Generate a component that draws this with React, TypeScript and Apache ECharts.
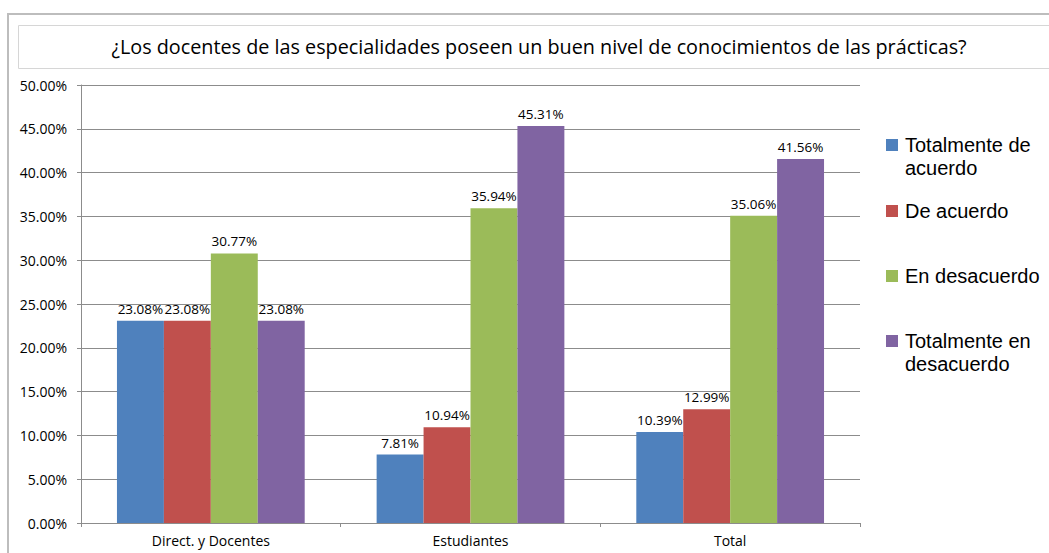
import React, { useEffect, useRef } from "react";
import * as echarts from "echarts";

const categories = ["Direct. y Docentes", "Estudiantes", "Total"];
const seriesNames = ["Totalmente de acuerdo", "De acuerdo", "En desacuerdo", "Totalmente en desacuerdo"];
const legendLabels = ["Totalmente de\nacuerdo", "De acuerdo", "En desacuerdo", "Totalmente en\ndesacuerdo"];
const totalmenteDeAcuerdo = [23.08, 7.81, 10.39];
const deAcuerdo = [23.08, 10.94, 12.99];
const enDesacuerdo = [30.77, 35.94, 35.06];
const totalmenteEnDesacuerdo = [23.08, 45.31, 41.56];
const seriesValues = [totalmenteDeAcuerdo, deAcuerdo, enDesacuerdo, totalmenteEnDesacuerdo];
const colors = ["#4F81BD", "#C0504D", "#9BBB59", "#8064A2"];
const titleText = "¿Los docentes de las especialidades poseen un buen nivel de conocimientos de las prácticas?";

const FONT = "'Open Sans', sans-serif";
const LEGEND_FONT = "'Liberation Sans', Arial, sans-serif";

export default function App() {
  const ref = useRef<HTMLDivElement>(null);
  useEffect(() => {
    document.body.style.margin = "0";
    const chart = echarts.init(ref.current!, null, { renderer: "svg" });
    const swatchTops = [139, 205, 270, 335];
    const LH = 23;
    const legends = seriesNames.map((name, i) => {
      const twoLine = legendLabels[i].includes("\n");
      return {
        orient: "vertical",
        left: 886,
        top: twoLine ? swatchTops[i] + 6 - 1.5 * LH : swatchTops[i] + 6 - LH / 2,
        padding: 0,
        itemWidth: 12,
        itemHeight: 12,
        itemGap: 0,
        icon: "rect",
        data: [name],
        formatter: () => (twoLine ? " \n" + legendLabels[i] : legendLabels[i]),
        textStyle: { fontFamily: LEGEND_FONT, fontSize: 20, color: "#000", lineHeight: LH, padding: [0, 0, 0, 2] },
      };
    });
    chart.setOption({
      animation: false,
      color: colors,
      textStyle: { fontFamily: FONT },
      graphic: [
        {
          type: "rect",
          shape: { x: 8, y: 14, width: 1100, height: 600 },
          style: { fill: "none", stroke: "#bdbdbd", lineWidth: 2 },
          silent: true,
        },
        {
          type: "rect",
          shape: { x: 18.5, y: 25.5, width: 1100, height: 43 },
          style: { fill: "none", stroke: "#d6d6d6", lineWidth: 1 },
          silent: true,
        },
        {
          type: "text",
          x: 539,
          y: 46,
          style: {
            text: titleText,
            align: "center",
            verticalAlign: "middle",
            fontFamily: FONT,
            fontSize: 19.8,
            fill: "#000",
          },
        },
      ],
      legend: legends,
      grid: { left: 81, right: 189, top: 85, bottom: 30, containLabel: false },
      xAxis: {
        type: "category",
        data: categories,
        axisLine: { lineStyle: { color: "#8c8c8c", width: 1 } },
        axisTick: { show: true, length: 4, lineStyle: { color: "#8c8c8c" } },
        axisLabel: { color: "#000", fontSize: 14, fontFamily: FONT, margin: 10 },
      },
      yAxis: {
        type: "value",
        min: 0,
        max: 50,
        interval: 5,
        axisLine: { show: true, lineStyle: { color: "#8c8c8c", width: 1 } },
        axisTick: { show: true, length: 4, lineStyle: { color: "#8c8c8c" } },
        splitLine: { show: true, lineStyle: { color: "#8c8c8c", width: 1 } },
        axisLabel: {
          color: "#000",
          fontSize: 14,
          fontFamily: FONT,
          margin: 14,
          formatter: (v: number) => v.toFixed(2) + "%",
        },
      },
      series: seriesNames.map((name, i) => ({
        name,
        type: "bar",
        data: seriesValues[i],
        barGap: "0%",
        barCategoryGap: "27.7%",
        itemStyle: { color: colors[i] },
        label: {
          show: true,
          position: "top",
          distance: 5,
          color: "#000",
          fontSize: 13.5,
          fontFamily: FONT,
          formatter: (p: any) => Number(p.value).toFixed(2) + "%",
        },
      })),
    });
    return () => chart.dispose();
  }, []);
  return <div ref={ref} style={{ width: 1049, height: 553 }} />;
}
